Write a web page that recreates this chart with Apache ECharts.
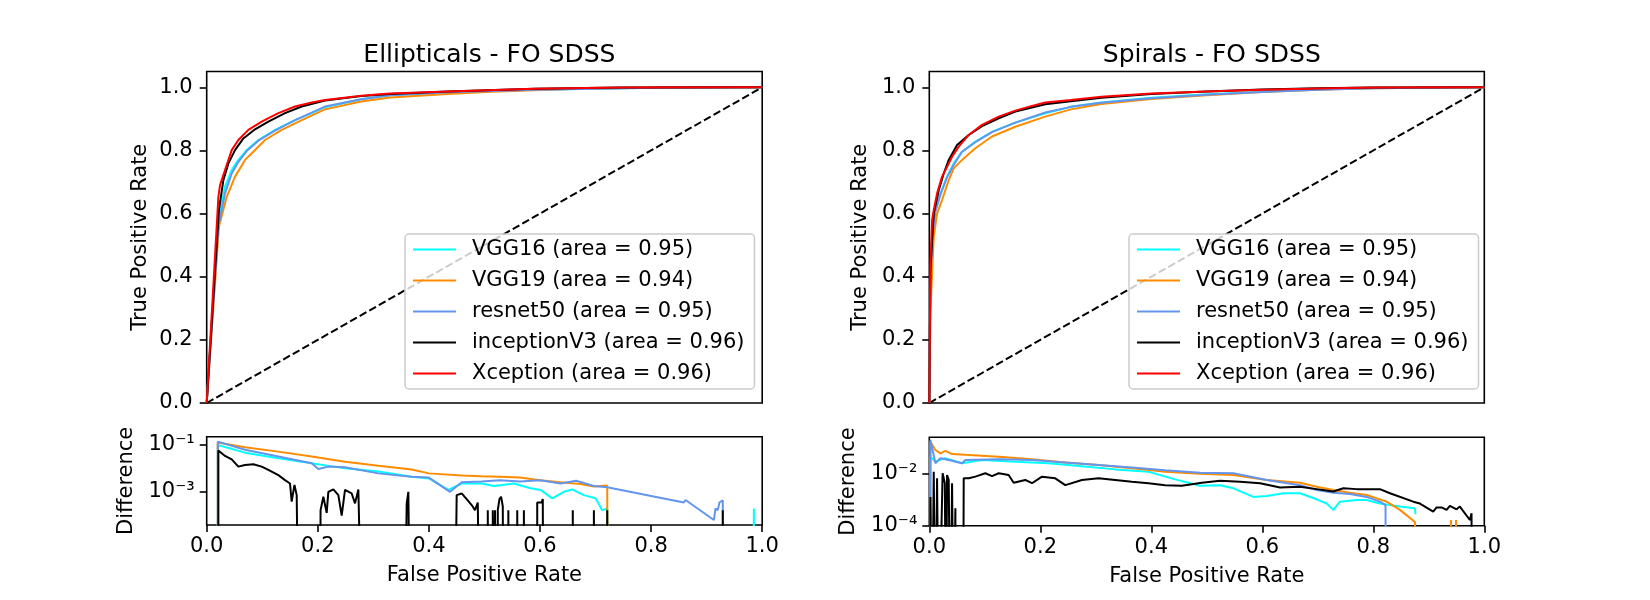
<!DOCTYPE html>
<html>
<head>
<meta charset="utf-8">
<title>ROC - FO SDSS</title>
<script src="https://cdn.jsdelivr.net/npm/echarts@6/dist/echarts.min.js"></script>
<style>
  html, body { margin: 0; padding: 0; background: #ffffff; }
  #chart { width: 1650px; height: 600px; }
</style>
</head>
<body>
<div id="chart"></div>
<script>
// ---- data ----
const panelTitles = ['Ellipticals - FO SDSS', 'Spirals - FO SDSS'];
const modelNames = ['VGG16 (area = 0.95)', 'VGG19 (area = 0.94)', 'resnet50 (area = 0.95)',
                    'inceptionV3 (area = 0.96)', 'Xception (area = 0.96)'];
const rateTicks = [0, 0.2, 0.4, 0.6, 0.8, 1.0];
const ellDiffTicks = [1e-3, 1e-1];
const spiDiffTicks = [1e-4, 1e-2];
const chanceLine = [[0, 0], [1, 1]];

// ROC curves [fpr, tpr]
const ellRocVgg16 = [[0,0],[0.021,0.579],[0.033,0.685],[0.045,0.738],[0.057,0.770],[0.072,0.801],[0.093,0.833],[0.123,0.865],[0.159,0.896],[0.189,0.918],[0.213,0.937],[0.278,0.962],[0.33,0.975],[0.434,0.984],[0.59,0.992],[0.78,0.998],[1,1]];
const ellRocVgg19 = [[0,0],[0.022,0.558],[0.036,0.653],[0.051,0.717],[0.069,0.770],[0.084,0.796],[0.105,0.833],[0.135,0.865],[0.171,0.896],[0.213,0.930],[0.278,0.955],[0.33,0.968],[0.434,0.979],[0.512,0.986],[0.667,0.995],[0.823,0.999],[1,1]];
const ellRocResnet50 = [[0,0],[0.021,0.558],[0.033,0.664],[0.045,0.727],[0.057,0.764],[0.072,0.798],[0.093,0.831],[0.123,0.863],[0.159,0.896],[0.189,0.920],[0.213,0.939],[0.278,0.962],[0.33,0.975],[0.434,0.984],[0.59,0.992],[0.78,0.998],[1,1]];
const ellRocInception = [[0,0],[0.022,0.611],[0.030,0.706],[0.039,0.759],[0.051,0.801],[0.066,0.838],[0.087,0.867],[0.111,0.891],[0.141,0.918],[0.171,0.939],[0.213,0.958],[0.278,0.972],[0.33,0.979],[0.434,0.987],[0.59,0.995],[0.745,0.999],[1,1]];
const ellRocXception = [[0,0],[0.021,0.653],[0.024,0.690],[0.033,0.738],[0.045,0.801],[0.057,0.833],[0.075,0.865],[0.099,0.891],[0.129,0.918],[0.159,0.939],[0.189,0.952],[0.213,0.960],[0.278,0.973],[0.33,0.980],[0.434,0.987],[0.59,0.995],[0.745,0.999],[1,1]];

const spiRocVgg16 = [[0,0],[0.002,0.315],[0.005,0.526],[0.011,0.611],[0.020,0.664],[0.032,0.717],[0.044,0.759],[0.059,0.796],[0.083,0.828],[0.113,0.859],[0.155,0.888],[0.209,0.918],[0.255,0.938],[0.31,0.952],[0.4,0.967],[0.5,0.978],[0.6,0.986],[0.7,0.993],[0.8,0.998],[1,1]];
const spiRocVgg19 = [[0,0],[0.002,0.294],[0.008,0.526],[0.014,0.600],[0.023,0.643],[0.035,0.706],[0.044,0.743],[0.059,0.770],[0.083,0.807],[0.113,0.844],[0.155,0.875],[0.209,0.907],[0.255,0.930],[0.31,0.947],[0.4,0.963],[0.5,0.975],[0.6,0.985],[0.7,0.992],[0.8,0.997],[1,1]];
const spiRocResnet50 = [[0,0],[0.002,0.368],[0.005,0.526],[0.011,0.606],[0.020,0.659],[0.032,0.715],[0.044,0.754],[0.059,0.796],[0.083,0.826],[0.113,0.858],[0.155,0.888],[0.209,0.920],[0.255,0.938],[0.31,0.951],[0.4,0.965],[0.5,0.976],[0.6,0.985],[0.7,0.992],[0.8,0.997],[1,1]];
const spiRocInception = [[0,0],[0.002,0.421],[0.008,0.600],[0.017,0.674],[0.026,0.727],[0.035,0.770],[0.050,0.817],[0.071,0.849],[0.095,0.877],[0.125,0.902],[0.155,0.923],[0.209,0.946],[0.255,0.956],[0.31,0.967],[0.4,0.979],[0.5,0.987],[0.6,0.993],[0.7,0.997],[0.8,0.999],[1,1]];
const spiRocXception = [[0,0],[0.002,0.442],[0.005,0.579],[0.008,0.611],[0.014,0.664],[0.023,0.717],[0.032,0.748],[0.041,0.780],[0.053,0.812],[0.071,0.849],[0.095,0.881],[0.125,0.907],[0.155,0.926],[0.185,0.941],[0.209,0.952],[0.255,0.960],[0.31,0.970],[0.4,0.980],[0.5,0.987],[0.6,0.992],[0.7,0.996],[0.8,0.999],[1,1]];

// differences [fpr, diff]; 0 = non-positive (clipped to the bottom on the log axis)
const ellDiffVgg16 = [[0.02,0],[0.02,0.1],[0.069,0.047],[0.129,0.027],[0.189,0.0166],[0.219,0.0129],[0.249,0.0102],[0.309,0.0074],[0.369,0.0045],[0.40,0.0038],[0.435,0.00123],[0.459,0.0023],[0.495,0.0023],[0.517,0.0018],[0.553,0.0023],[0.583,0.00145],[0.601,0.00123],[0.622,0.00054],[0.643,0.00102],[0.658,0.00129],[0.679,0.00074],[0.700,0.00054],[0.712,0.00017],[0.721,0.0002],[0.722,0],[0.984,0],[0.985,0.0002],[0.986,0]];
const ellDiffVgg19 = [[0.02,0],[0.02,0.126],[0.069,0.079],[0.129,0.052],[0.189,0.032],[0.249,0.0195],[0.309,0.0132],[0.369,0.0091],[0.40,0.0062],[0.459,0.005],[0.495,0.0047],[0.528,0.0045],[0.564,0.0041],[0.6,0.0032],[0.637,0.0026],[0.673,0.0022],[0.697,0.0017],[0.721,0.0019],[0.722,0]];
const ellDiffResnet50 = [[0.02,0],[0.02,0.138],[0.069,0.062],[0.129,0.032],[0.189,0.0166],[0.201,0.0095],[0.219,0.012],[0.249,0.0112],[0.309,0.0062],[0.369,0.0045],[0.40,0.0041],[0.438,0.00102],[0.459,0.0026],[0.495,0.0028],[0.528,0.0032],[0.564,0.0028],[0.6,0.0032],[0.637,0.0023],[0.665,0.003],[0.697,0.0018],[0.721,0.0016],[0.859,0.00036],[0.862,0.00046],[0.913,0.000065],[0.916,0.0002],[0.920,0.00017],[0.923,0.00036],[0.929,0.00045],[0.930,0]];
const ellDiffInception = [[0.021,0],[0.021,0.058],[0.033,0.034],[0.045,0.0245],[0.057,0.012],[0.069,0.0141],[0.084,0.0151],[0.099,0.012],[0.111,0.0087],[0.129,0.0052],[0.141,0.0032],[0.150,0.0023],[0.153,0.00039],[0.158,0.002],[0.162,0.00074],[0.165,0],
  [0.204,0],[0.205,0.00017],[0.210,0.00063],[0.216,0.00013],[0.219,0.00102],[0.228,0.00129],[0.237,0.00074],[0.243,0.0001],[0.249,0.00123],[0.261,0.00087],[0.267,0.00033],[0.273,0.00129],[0.279,0],
  [0.357,0],[0.360,0.00032],[0.363,0.00102],[0.366,0],
  [0.447,0],[0.450,0.00074],[0.459,0.00087],[0.468,0.0005],[0.477,0.00028],[0.483,0.00017],[0.488,0.00036],[0.491,0],
  [0.506,0],[0.506,0.00017],[0.507,0],[0.515,0],[0.515,0.00017],[0.516,0],[0.519,0],[0.519,0.00017],[0.520,0],
  [0.524,0],[0.524,0.00017],[0.527,0.0005],[0.530,0.00063],[0.533,0.00025],[0.534,0],
  [0.543,0],[0.543,0.00017],[0.544,0],[0.559,0],[0.559,0.00017],[0.560,0],[0.571,0],[0.571,0.00017],[0.572,0],
  [0.595,0],[0.595,0.00036],[0.603,0.00036],[0.605,0.0005],[0.606,0],
  [0.659,0],[0.659,0.00017],[0.660,0],[0.697,0],[0.697,0.00017],[0.698,0],[0.721,0],[0.721,0.00017],[0.722,0],
  [0.929,0],[0.929,0.00017],[0.930,0]];

const spiDiffVgg16 = [[0.001,0],[0.002,0.047],[0.011,0.030],[0.029,0.041],[0.059,0.026],[0.095,0.035],[0.155,0.030],[0.215,0.026],[0.275,0.020],[0.335,0.0151],[0.395,0.0123],[0.443,0.0062],[0.488,0.0035],[0.524,0.0037],[0.548,0.0028],[0.584,0.0013],[0.608,0.0014],[0.638,0.0018],[0.668,0.0018],[0.698,0.00105],[0.716,0.00072],[0.728,0.00041],[0.740,0.00085],[0.770,0.00098],[0.788,0.00098],[0.812,0.00072],[0.848,0.00055],[0.875,0.00047],[0.876,0.00028]];
const spiDiffVgg19 = [[0.001,0],[0.002,0.178],[0.011,0.085],[0.020,0.063],[0.029,0.079],[0.041,0.059],[0.065,0.055],[0.125,0.047],[0.185,0.037],[0.245,0.028],[0.305,0.0224],[0.365,0.0166],[0.425,0.0123],[0.488,0.0102],[0.548,0.0091],[0.608,0.0059],[0.668,0.0046],[0.698,0.0032],[0.728,0.0024],[0.758,0.0019],[0.788,0.00155],[0.824,0.00085],[0.848,0.00041],[0.875,0.00014],[0.876,0],[0.939,0],[0.940,0.000166],[0.941,0],[0.948,0],[0.949,0.000166],[0.950,0]];
const spiDiffResnet50 = [[0.001,0],[0.002,0.209],[0.011,0.026],[0.020,0.041],[0.035,0.035],[0.059,0.026],[0.065,0.035],[0.125,0.037],[0.185,0.035],[0.245,0.028],[0.305,0.0224],[0.365,0.018],[0.425,0.0141],[0.488,0.0112],[0.548,0.0107],[0.608,0.0059],[0.668,0.0037],[0.698,0.0024],[0.728,0.0019],[0.758,0.0017],[0.788,0.0013],[0.812,0.00085],[0.822,0.00063],[0.823,0]];
const spiDiffInception = [[0.001,0],[0.002,0.0013],[0.005,0],[0.008,0.0123],[0.011,0],[0.014,0.0068],[0.017,0],[0.024,0.0107],[0.028,0.0044],[0.030,0],[0.032,0.0091],[0.035,0.0059],[0.038,0],[0.041,0.0044],[0.044,0],[0.047,0.00047],[0.048,0],[0.061,0],
  [0.062,0.0068],[0.065,0.0059],[0.071,0.0068],[0.083,0.0079],[0.101,0.0107],[0.113,0.0083],[0.125,0.0107],[0.143,0.0091],[0.152,0.0046],[0.173,0.0059],[0.185,0.0044],[0.203,0.0079],[0.227,0.0068],[0.245,0.0037],[0.275,0.0059],[0.305,0.0068],[0.335,0.0059],[0.365,0.005],[0.395,0.0044],[0.425,0.0037],[0.455,0.0035],[0.491,0.0046],[0.524,0.0055],[0.560,0.005],[0.596,0.0044],[0.632,0.003],[0.668,0.0032],[0.698,0.0026],[0.728,0.0021],[0.746,0.0028],[0.770,0.0026],[0.812,0.0026],[0.830,0.0018],[0.872,0.00085],[0.884,0.00072],[0.908,0.00035],[0.914,0.00051],[0.923,0.00051],[0.932,0.00041],[0.938,0.00058],[0.950,0.00043],[0.956,0.00055],[0.974,0.000166],[0.977,0.0003],[0.978,0]];

// ---- chart ----
const FONT = 'DejaVu Sans';
const FLOOR = 1e-9; // stands in for non-positive differences
const colors = ['#00ffff', '#ff8c00', '#6495ed', '#000000', '#ff0000'];
const sup = { '-': '\u207b', '0': '\u2070', '1': '\u00b9', '2': '\u00b2', '3': '\u00b3', '4': '\u2074', '5': '\u2075' };
const powLabel = v => '10' + String(Math.round(Math.log10(v))).split('').map(c => sup[c]).join('');

const chart = echarts.init(document.getElementById('chart'), null, { renderer: 'canvas' });

const grids = [
  { left: 206.7, top: 71.5, width: 555.5, height: 331.5 },
  { left: 206.7, top: 436.7, width: 555.5, height: 88.3 },
  { left: 929.3, top: 71.5, width: 555, height: 331.5 },
  { left: 929.3, top: 437.3, width: 555, height: 88.4 }
].map(g => Object.assign({ show: true, borderColor: '#000', borderWidth: 1.6, backgroundColor: 'transparent', containLabel: false, outerBoundsMode: 'none' }, g));

const tickStyle = { show: true, inside: false, length: 7, lineStyle: { color: '#000', width: 1.6 } };
const labelStyle = { color: '#000', fontSize: 21, fontFamily: FONT };

function xAxisFor(i, bottom) {
  return {
    type: 'value', gridIndex: i, min: 0, max: 1, interval: 0.2,
    axisLine: { show: false }, splitLine: { show: false },
    axisTick: bottom ? tickStyle : { show: false },
    axisLabel: bottom ? Object.assign({ margin: 11, formatter: v => v.toFixed(1) }, labelStyle) : { show: false },
    name: bottom ? 'False Positive Rate' : '', nameLocation: 'middle', nameGap: 40,
    nameTextStyle: labelStyle, nameMoveOverlap: false
  };
}

function rocYAxis(i, gap) {
  return {
    type: 'value', gridIndex: i, min: 0, max: 1.05,
    axisLine: { show: false }, splitLine: { show: false },
    axisTick: Object.assign({ customValues: rateTicks }, tickStyle),
    axisLabel: Object.assign({ margin: 14, customValues: rateTicks, formatter: v => v.toFixed(1) }, labelStyle),
    name: 'True Positive Rate', nameLocation: 'middle', nameGap: gap, nameRotate: 90,
    nameTextStyle: labelStyle, nameMoveOverlap: false
  };
}

function diffYAxis(i, lo, hi, ticks, gap) {
  return {
    type: 'log', logBase: 10, gridIndex: i, min: Math.pow(10, lo), max: Math.pow(10, hi),
    axisLine: { show: false }, splitLine: { show: false }, minorTick: { show: false },
    axisTick: Object.assign({ customValues: ticks }, tickStyle),
    axisLabel: Object.assign({ margin: 12, customValues: ticks, formatter: powLabel }, labelStyle),
    name: 'Difference', nameLocation: 'middle', nameGap: gap, nameRotate: 90,
    nameTextStyle: labelStyle, nameMoveOverlap: false
  };
}

function lineSeries(name, data, color, gi, extra) {
  return Object.assign({
    name: name, type: 'line', xAxisIndex: gi, yAxisIndex: gi, data: data,
    symbol: 'none', showSymbol: false, clip: true, animation: false,
    lineStyle: { color: color, width: 2 }, itemStyle: { color: color }, emphasis: { disabled: true }
  }, extra || {});
}

const chance = gi => lineSeries('chance', chanceLine, '#000', gi, { lineStyle: { color: '#000', width: 2, type: [7.7, 3.3] } });
const toLog = arr => arr.map(p => [p[0], p[1] > 0 ? p[1] : FLOOR]);

const ellRoc = [ellRocVgg16, ellRocVgg19, ellRocResnet50, ellRocInception, ellRocXception];
const spiRoc = [spiRocVgg16, spiRocVgg19, spiRocResnet50, spiRocInception, spiRocXception];
const ellDiff = [ellDiffVgg16, ellDiffVgg19, ellDiffResnet50, ellDiffInception];
const spiDiff = [spiDiffVgg16, spiDiffVgg19, spiDiffResnet50, spiDiffInception];

const series = [chance(0), chance(2)];
ellRoc.forEach((d, k) => series.push(lineSeries(modelNames[k], d, colors[k], 0)));
spiRoc.forEach((d, k) => series.push(lineSeries(modelNames[k], d, colors[k], 2)));
ellDiff.forEach((d, k) => series.push(lineSeries(modelNames[k], toLog(d), colors[k], 1)));
spiDiff.forEach((d, k) => series.push(lineSeries(modelNames[k], toLog(d), colors[k], 3)));

function legendAt(left, top) {
  return {
    data: modelNames, orient: 'vertical', left: left, top: top,
    icon: 'rect', itemWidth: 43, itemHeight: 2.2, itemGap: 10, padding: [5, 10, 5, 8],
    backgroundColor: 'rgba(255,255,255,0.8)', borderColor: '#cccccc', borderWidth: 1.5, borderRadius: 4,
    selectedMode: false,
    textStyle: { color: '#000', fontSize: 21, fontFamily: FONT, padding: [0, 0, 0, 11] }
  };
}

const option = {
  backgroundColor: '#ffffff',
  animation: false,
  textStyle: { fontFamily: FONT },
  title: panelTitles.map((t, k) => ({
    text: t, left: k === 0 ? 484.4 : 1206.8, top: 38, textAlign: 'center',
    textStyle: { fontSize: 25, fontWeight: 'normal', color: '#000', fontFamily: FONT }
  })),
  legend: [legendAt(405, 234), legendAt(1129, 234)],
  grid: grids,
  xAxis: [xAxisFor(0, false), xAxisFor(1, true), xAxisFor(2, false), xAxisFor(3, true)],
  yAxis: [rocYAxis(0, 56), diffYAxis(1, -4.4, -0.65, ellDiffTicks, 70), rocYAxis(2, 58), diffYAxis(3, -4, -0.58, spiDiffTicks, 70)],
  series: series
};

chart.setOption(option);
</script>
</body>
</html>
